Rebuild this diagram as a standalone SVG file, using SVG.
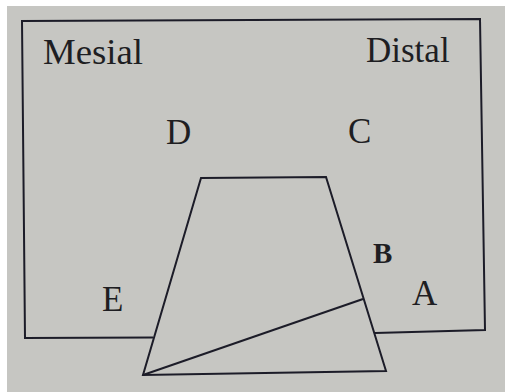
<svg xmlns="http://www.w3.org/2000/svg" width="505" height="392" viewBox="0 0 505 392">
<style>
.ln{fill:none;stroke:#1c1c28;stroke-width:2;stroke-linejoin:miter}
.t{font-family:"Liberation Serif","Times New Roman",serif;font-size:35px;fill:#1e1e22}
.b{font-weight:bold;font-size:29px}
</style>
<rect x="0" y="0" width="505" height="392" fill="#ffffff"/>
<rect x="7" y="6" width="498" height="386" fill="#c6c6c2"/>
<g id="frame">
<path class="ln" d="M153,337.5 L25,338 L22,21 L480,19 L485,330 L375,333"/>
</g>
<g id="tooth">
<polygon class="ln" points="201,178 326,177 386,371 143,375"/>
</g>
<g id="connectors">
<line class="ln" x1="143" y1="375" x2="363" y2="299"/>
</g>
<g id="labels">
<text class="t" x="43" y="64" textLength="100" lengthAdjust="spacingAndGlyphs">Mesial</text>
<text class="t" x="366" y="62">Distal</text>
<text class="t" x="166" y="144">D</text>
<text class="t" x="348" y="143">C</text>
<text class="t b" x="373" y="263">B</text>
<text class="t" x="412" y="305">A</text>
<text class="t" x="102" y="311">E</text>
</g>
</svg>
